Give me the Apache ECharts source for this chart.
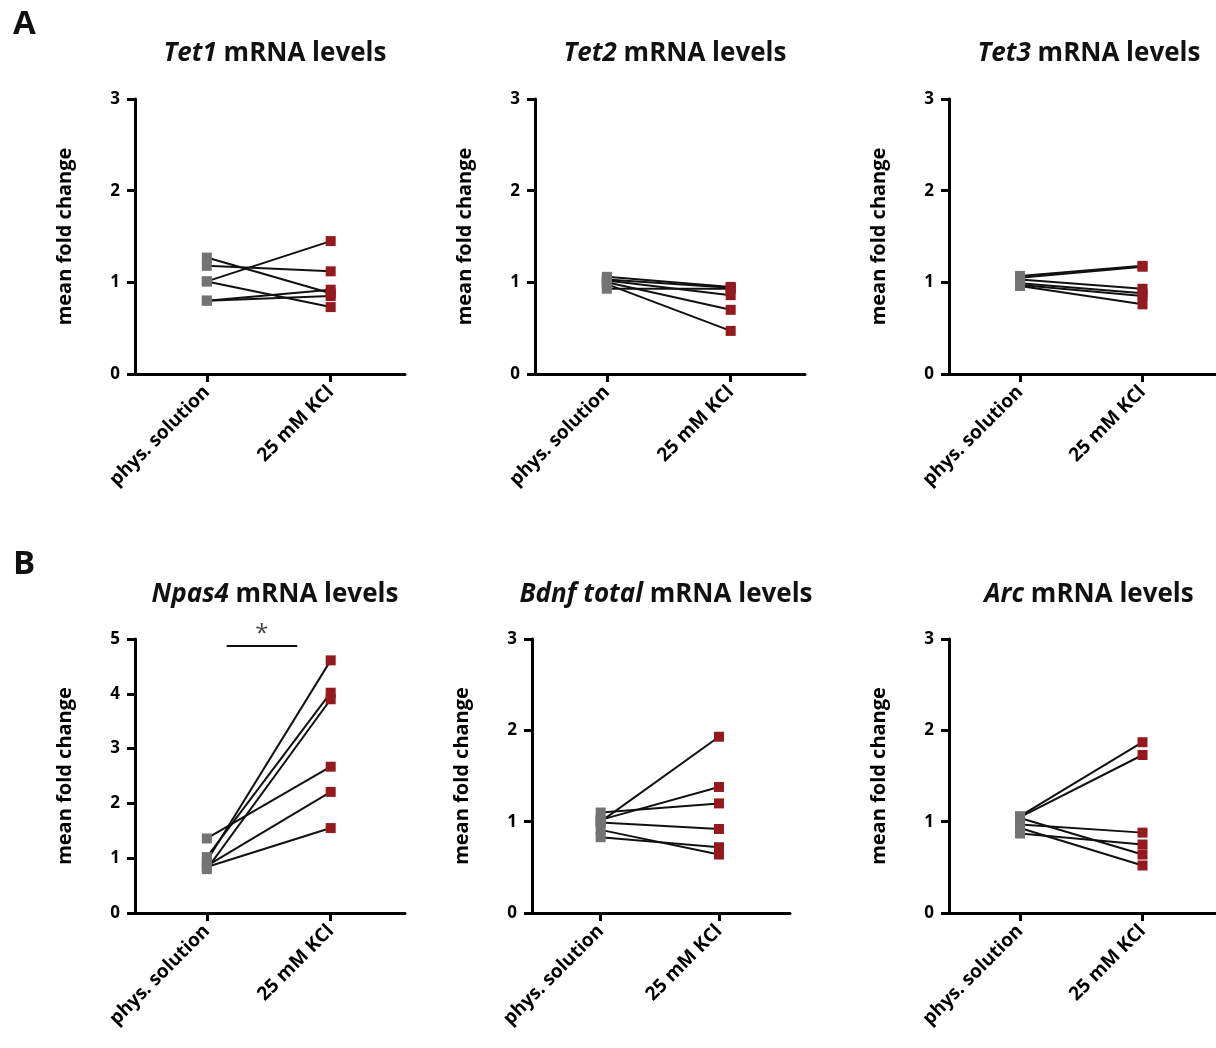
<!DOCTYPE html>
<html>
<head>
<meta charset="utf-8">
<script src="https://cdn.jsdelivr.net/npm/echarts@6/dist/echarts.min.js"></script>
<style>
html,body{margin:0;padding:0;background:#fff;}
#chart{width:1216px;height:1048px;}
</style>
</head>
<body>
<div id="chart"></div>
<script>
// ---- data ----
const categories = ['phys. solution', '25 mM KCl'];
const yTicksA = [0, 1, 2, 3];
const yTicksNpas4 = [0, 1, 2, 3, 4, 5];

const tet1Phys = [1.27, 1.18, 1.01, 1.01, 0.80, 0.80];
const tet1Kcl  = [0.88, 1.12, 1.45, 0.73, 0.92, 0.85];

const tet2Phys = [1.06, 1.03, 0.93, 1.02, 1.00, 0.98];
const tet2Kcl  = [0.95, 0.94, 0.93, 0.86, 0.70, 0.47];

const tet3Phys = [1.07, 1.05, 1.03, 0.99, 0.97, 0.96];
const tet3Kcl  = [1.18, 1.17, 0.93, 0.88, 0.85, 0.76];

const npas4Phys = [1.36, 0.95, 1.02, 0.80, 0.86, 0.84];
const npas4Kcl  = [2.67, 4.61, 4.02, 3.90, 2.21, 1.55];

const bdnfPhys = [1.00, 1.02, 1.10, 0.99, 0.91, 0.83];
const bdnfKcl  = [1.93, 1.38, 1.20, 0.92, 0.64, 0.72];

const arcPhys = [1.06, 1.05, 0.97, 1.04, 0.93, 0.87];
const arcKcl  = [1.87, 1.73, 0.88, 0.64, 0.52, 0.75];

const npas4SigX = [0.16, 0.73];
const npas4SigY = 4.87;
const npas4SigText = '*';

const panelLetters = ['A', 'B'];

// ---- layout ----
const panels = [
  {gene: 'Tet1', rest: ' mRNA levels', phys: tet1Phys, kcl: tet1Kcl, yMax: 3, g: {left: 135, top: 99, width: 270, height: 275}, tTop: 36},
  {gene: 'Tet2', rest: ' mRNA levels', phys: tet2Phys, kcl: tet2Kcl, yMax: 3, g: {left: 535, top: 99, width: 270, height: 275}, tTop: 36},
  {gene: 'Tet3', rest: ' mRNA levels', phys: tet3Phys, kcl: tet3Kcl, yMax: 3, g: {left: 949, top: 99, width: 270, height: 275}, tTop: 36},
  {gene: 'Npas4', rest: ' mRNA levels', phys: npas4Phys, kcl: npas4Kcl, yMax: 5, g: {left: 135, top: 639, width: 270, height: 274}, tTop: 577},
  {gene: 'Bdnf total', rest: ' mRNA levels', phys: bdnfPhys, kcl: bdnfKcl, yMax: 3, g: {left: 532, top: 639, width: 258, height: 274}, tTop: 577},
  {gene: 'Arc', rest: ' mRNA levels', phys: arcPhys, kcl: arcKcl, yMax: 3, g: {left: 949, top: 639, width: 270, height: 274}, tTop: 577}
];

const FONT = '"Open Sans", "Noto Sans", sans-serif';
const GREY = '#737373';
const RED = '#951a1e';

const grids = [], xAxes = [], yAxes = [], series = [], titles = [];

panels.forEach((p, i) => {
  grids.push(Object.assign({containLabel: false}, p.g));
  titles.push({
    text: '{i|' + p.gene + '}' + p.rest,
    left: p.g.left + p.g.width / 2,
    top: p.tTop,
    textAlign: 'center',
    textStyle: {
      fontFamily: FONT, fontSize: 26, fontWeight: 'bold', color: '#111',
      rich: {i: {fontFamily: FONT, fontSize: 26, fontWeight: 'bold', fontStyle: 'italic', color: '#111'}}
    }
  });
  xAxes.push({
    gridIndex: i, type: 'value', min: -0.58, max: 1.6,
    axisLine: {onZero: false, lineStyle: {color: '#000', width: 3}},
    axisTick: {show: true, customValues: [0, 1], length: 8, inside: false, lineStyle: {color: '#000', width: 3}},
    axisLabel: {
      customValues: [0, 1], rotate: 45, margin: 15,
      formatter: v => categories[Math.round(v)],
      fontFamily: FONT, fontWeight: 'bold', fontSize: 19, color: '#000'
    },
    splitLine: {show: false}
  });
  const ticks = p.yMax === 5 ? yTicksNpas4 : yTicksA;
  yAxes.push({
    gridIndex: i, type: 'value', min: ticks[0], max: ticks[ticks.length - 1], interval: 1,
    name: 'mean fold change', nameLocation: 'middle', nameGap: 60,
    nameTextStyle: {fontFamily: FONT, fontWeight: 'bold', fontSize: 20, color: '#000'},
    axisLine: {show: true, onZero: false, lineStyle: {color: '#000', width: 3}},
    axisTick: {show: true, length: 8, lineStyle: {color: '#000', width: 3}},
    axisLabel: {margin: 15, fontFamily: FONT, fontWeight: 'bold', fontSize: 17, color: '#000'},
    splitLine: {show: false}
  });
  p.phys.forEach((v, k) => {
    series.push({
      type: 'line', xAxisIndex: i, yAxisIndex: i, symbol: 'none', silent: true,
      lineStyle: {color: '#111', width: 2}, z: 2,
      data: [[0, v], [1, p.kcl[k]]]
    });
  });
  series.push({
    type: 'scatter', xAxisIndex: i, yAxisIndex: i, symbol: 'rect', symbolSize: 10, z: 3,
    itemStyle: {color: GREY, opacity: 1}, data: p.phys.map(v => [0, v])
  });
  series.push({
    type: 'scatter', xAxisIndex: i, yAxisIndex: i, symbol: 'rect', symbolSize: 10, z: 3,
    itemStyle: {color: RED, opacity: 1}, data: p.kcl.map(v => [1, v])
  });
});

// significance bar on Npas4 panel
series.push({
  type: 'line', xAxisIndex: 3, yAxisIndex: 3, symbol: 'none', silent: true,
  lineStyle: {color: '#111', width: 2},
  data: npas4SigX.map(x => [x, npas4SigY])
});
series.push({
  type: 'scatter', xAxisIndex: 3, yAxisIndex: 3, symbolSize: 0, silent: true,
  label: {show: true, position: 'top', distance: 0, formatter: npas4SigText,
          fontFamily: FONT, fontSize: 24, color: '#111'},
  data: [[(npas4SigX[0] + npas4SigX[1]) / 2, npas4SigY]]
});

titles.push({text: panelLetters[0], left: 8, top: 3, textStyle: {fontFamily: FONT, fontSize: 33, fontWeight: 'bold', color: '#111'}});
titles.push({text: panelLetters[1], left: 8, top: 543, textStyle: {fontFamily: FONT, fontSize: 33, fontWeight: 'bold', color: '#111'}});

const chart = echarts.init(document.getElementById('chart'), null, {renderer: 'canvas'});
chart.setOption({
  animation: false,
  backgroundColor: '#fff',
  title: titles,
  grid: grids,
  xAxis: xAxes,
  yAxis: yAxes,
  series: series
});
</script>
</body>
</html>
